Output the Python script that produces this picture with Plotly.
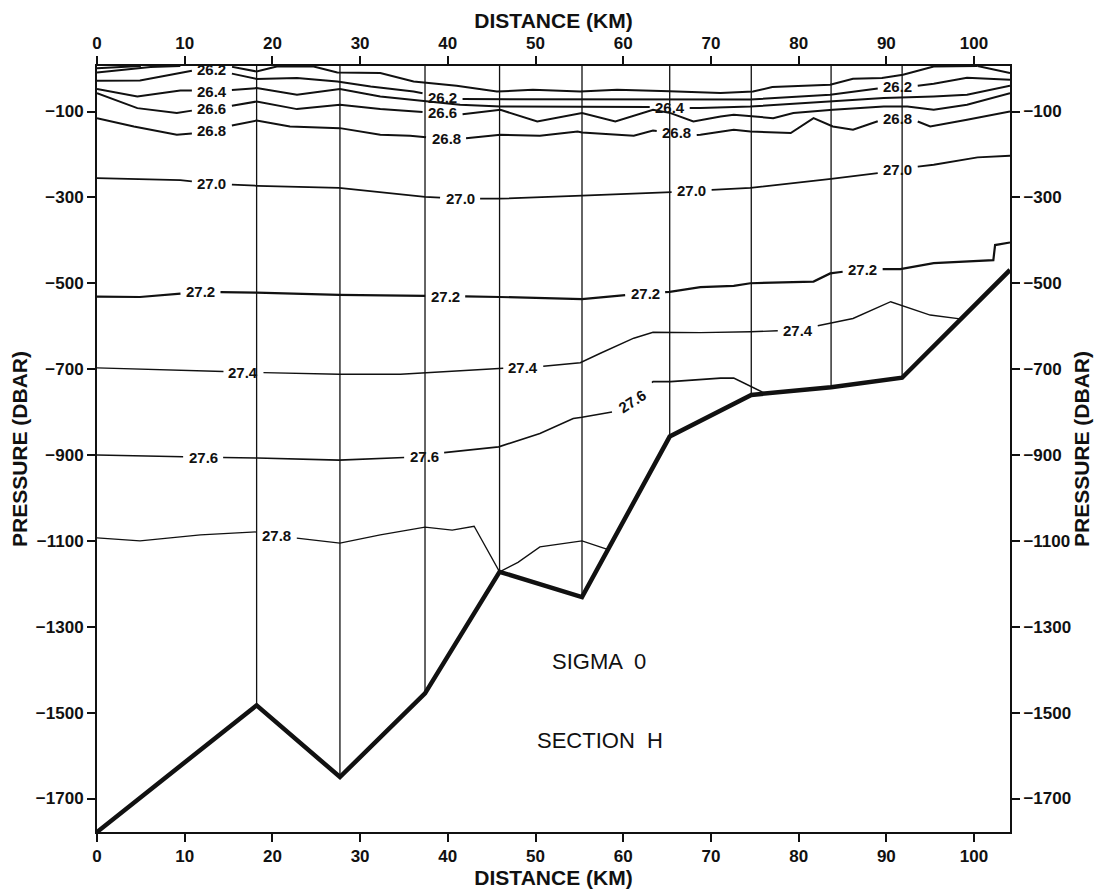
import numpy as np
import plotly.graph_objects as go

# ---------------- axes ----------------
x_range = [0, 104.1]
y_range = [-1778, 6]
distance_ticks = [0, 10, 20, 30, 40, 50, 60, 70, 80, 90, 100]
pressure_ticks = [-100, -300, -500, -700, -900, -1100, -1300, -1500, -1700]

# ---------------- stations / bottom ----------------
station_km = [18.2, 27.7, 37.4, 45.9, 55.3, 65.3, 74.6, 83.7, 91.8]
bottom_km = [0, 18.2, 27.7, 37.4, 45.9, 55.3, 65.3, 74.6, 83.7, 91.8, 104.1]
bottom_p = [-1778, -1483, -1650, -1455, -1172, -1231, -857, -760, -742, -720, -469]

# ---------------- near-surface unlabeled lines ----------------
s1_km = [0, 3.0, 5.0]
s1_p = [1, 4, 6]
s2_km = [0, 3.0, 6.1, 9.5]
s2_p = [-9, -3, 3.5, 6]
m1_km = [15.4, 18.2, 20.5, 24.7, 27.4, 32.3, 36.1, 41.0, 45.6, 49.7, 55.1, 59.3, 65.3,
         71.1, 74.8, 77.0, 83.6, 86.2, 89.5, 91.9, 95.4, 100.4]
m1_p = [4, -6.8, 4.9, 4.9, -9.1, -10.5, -30.1, -40.1, -53.4, -49.4, -53.4, -49.4, -53,
        -57.1, -53.4, -43.1, -37.8, -23.8, -22.2, -14.5, 4.9, 6]
s3_km = [100.4, 104.1]
s3_p = [6, -10.5]

# ---------------- labelled isopycnals ----------------
c262_km = [0, 4.9, 8.4, 10.6, 13.1, 15.2, 18.2, 22.8, 27.4, 31.2, 36.1, 39.4, 41.1, 46.0,
           55.3, 65.3, 74.5, 83.6, 87.3, 91.3, 93.0, 95.4, 99.2, 104.1]
c262_p = [-28.5, -27.8, -14.5, -5.1, -3, -11, -24, -22.2, -30.1, -41.7, -53.4, -67, -71.1,
          -71.1, -72.7, -72.7, -72, -61.1, -50, -42, -41.7, -35.4, -21.5, -26.1]
c262_labels = [13.1, 39.4, 91.3]

c264_km = [0, 4.6, 9.5, 11.4, 13.1, 14.8, 18.2, 22.8, 27.7, 32.3, 35.7, 41.4, 46.0, 55.3,
           61.9, 65.3, 68.8, 74.5, 83.9, 89.7, 95.4, 99.2, 104.1]
c264_p = [-47.8, -65, -51.1, -51.1, -53.4, -51.1, -45.5, -61.1, -47.8, -65, -72.7, -84.4,
          -88.3, -88.3, -88.3, -91.4, -92.1, -88.3, -76.7, -68.8, -65, -61.1, -40.1]
c264_labels = [13.1, 65.3]

c266_km = [0, 4.6, 9.1, 11.4, 13.1, 14.8, 18.2, 22.8, 27.7, 32.3, 35.7, 39.4, 41.1, 46.0,
           50.2, 55.3, 59.1, 63.4, 65.4, 68.0, 71.1, 72.6, 77.1, 79.4, 83.9, 89.7, 92.4,
           95.4, 99.2, 104.1]
c266_p = [-57.1, -92.1, -103.7, -96, -92.1, -88.3, -76.7, -94.4, -84.4, -94.4, -100, -103,
          -107.7, -96, -123.3, -103.7, -123.3, -96, -103.7, -123.3, -111.7, -107.7, -115.4,
          -103.7, -96, -88.3, -88.3, -96, -84.4, -57.1]
c266_labels = [13.1, 39.4]

c268_km = [0, 4.2, 9.1, 11.4, 13.1, 14.8, 18.2, 22.0, 27.7, 32.3, 35.7, 39.8, 41.4, 46.0,
           50.5, 54.8, 55.3, 61.2, 63.4, 66.1, 67.7, 68.8, 72.6, 74.5, 79.1, 81.7, 83.9,
           86.2, 89.5, 91.3, 93.1, 95.0, 99.2, 104.1]
c268_p = [-115.4, -135, -154.3, -150.3, -144.3, -135, -121, -135, -138.7, -154.3, -156.6,
          -163.6, -163.6, -154.3, -156.6, -146.6, -148.9, -156.6, -144.3, -150, -156,
          -154.3, -142.6, -146.6, -150.3, -115.4, -135, -142.6, -119.3, -117, -119.3, -135,
          -119.3, -100]
c268_labels = [13.1, 39.8, 66.1, 91.3]

c270_km = [0, 6.1, 9.5, 13.1, 18.3, 27.6, 37.4, 41.4, 45.9, 55.3, 65.3, 67.8, 74.5, 83.7,
           89.3, 91.3, 95.4, 100.4, 104.1]
c270_p = [-255, -258, -260, -268, -273, -278, -299, -303, -303, -296, -288, -285, -278,
          -257, -243, -234, -224, -207, -203]
c270_labels = [13.1, 41.4, 67.8, 91.3]

c272_km = [0, 4.9, 11.8, 18.2, 27.6, 39.7, 45.9, 55.3, 62.5, 65.3, 68.8, 72.6, 74.5, 81.7,
           83.6, 87.3, 89.1, 91.6, 95.4, 102.2, 102.4, 104.1]
c272_p = [-531, -532, -520, -522, -527, -530, -532, -537, -523, -520, -509, -506, -500,
          -496, -477, -467, -467, -467, -453, -446, -411, -405]
c272_labels = [11.8, 39.7, 62.5, 87.3]

c274_km = [0, 16.7, 27.6, 34.6, 46.0, 48.6, 50.5, 55.1, 57.4, 61.2, 63.4, 68.8, 74.5, 79.9,
           81.7, 86.2, 90.5, 95.0, 98.4]
c274_p = [-697, -707, -712, -712, -698, -697, -694, -685, -663, -628, -614, -615, -613,
          -609, -601, -582, -543, -574, -583]
c274_labels = [16.7, 48.6, 79.9]

c276_km = [0, 12.1, 18.3, 27.6, 37.3, 38.9, 45.8, 50.5, 54.3, 55.3, 58.9, 61.0, 63.4,
           65.4, 71.1, 72.6, 74.5, 76.2]
c276_p = [-900, -905, -907, -912, -904, -896, -881, -850, -815, -812, -799, -776, -729,
          -729, -721, -721, -739, -757]
c276_labels = [12.1, 37.3, 61.0]
c276_angles = [0, 0, -33]

c278_km = [0, 4.9, 11.8, 18.2, 20.5, 27.7, 32.3, 37.4, 40.5, 43.0, 45.9, 48.0, 50.5, 55.3,
           58.2]
c278_p = [-1093, -1100, -1086, -1079, -1088, -1105, -1086, -1068, -1075, -1066, -1172,
          -1150, -1114, -1100, -1120]
c278_labels = [20.5]

# ---------------- drawing helpers ----------------
PX_PER_KM = 8.77


def cut_for_labels(xs, ys, centers, halfw):
    gaps = [(c - halfw, c + halfw) for c in centers]
    extra = [g for ab in gaps for g in ab if xs[0] < g < xs[-1]]
    allx = sorted(set(list(xs) + extra))
    ally = np.interp(allx, xs, ys)
    ox, oy = [], []
    prev = None
    for x, y in zip(allx, ally):
        if any(a < x < b for a, b in gaps):
            continue
        if prev is not None and any(prev <= a and x >= b for a, b in gaps):
            ox.append(None)
            oy.append(None)
        ox.append(float(x))
        oy.append(float(y))
        prev = x
    return ox, oy


fig = go.Figure()

line_col = "#111111"

# station verticals
st_bottom = np.interp(station_km, bottom_km, bottom_p)
vx, vy = [], []
for k, b in zip(station_km, st_bottom):
    vx += [k, k, None]
    vy += [y_range[1], float(b), None]
fig.add_trace(go.Scatter(x=vx, y=vy, mode="lines", line=dict(color=line_col, width=1.3),
                         hoverinfo="skip", showlegend=False))

# unlabeled surface lines
for xs, ys in [(s1_km, s1_p), (s2_km, s2_p), (m1_km, m1_p), (s3_km, s3_p)]:
    fig.add_trace(go.Scatter(x=xs, y=ys, mode="lines",
                             line=dict(color=line_col, width=2.0, shape="linear"),
                             hoverinfo="skip", showlegend=False))

contours = [
    ("26.2", c262_km, c262_p, c262_labels, None, 2.0),
    ("26.4", c264_km, c264_p, c264_labels, None, 2.0),
    ("26.6", c266_km, c266_p, c266_labels, None, 2.0),
    ("26.8", c268_km, c268_p, c268_labels, None, 2.0),
    ("27.0", c270_km, c270_p, c270_labels, None, 1.8),
    ("27.2", c272_km, c272_p, c272_labels, None, 2.2),
    ("27.4", c274_km, c274_p, c274_labels, None, 1.4),
    ("27.6", c276_km, c276_p, c276_labels, c276_angles, 1.6),
    ("27.8", c278_km, c278_p, c278_labels, None, 1.3),
]

annotations = []
halfw = 20 / PX_PER_KM
for name, xs, ys, labs, angs, w in contours:
    cx, cy = cut_for_labels(xs, ys, labs, halfw)
    fig.add_trace(go.Scatter(x=cx, y=cy, mode="lines", line=dict(color=line_col, width=w),
                             hoverinfo="skip", showlegend=False))
    for i, k in enumerate(labs):
        yv = float(np.interp(k, xs, ys))
        annotations.append(dict(
            x=k, y=yv, xref="x", yref="y", text=name, showarrow=False,
            textangle=(angs[i] if angs else 0),
            font=dict(family="Liberation Sans", size=15, color=line_col, weight="bold"),
            xanchor="center", yanchor="middle"))

# bottom profile
fig.add_trace(go.Scatter(x=bottom_km, y=bottom_p, mode="lines",
                         line=dict(color=line_col, width=4.5), hoverinfo="skip",
                         showlegend=False))

# invisible trace for secondary axes
fig.add_trace(go.Scatter(x=[x_range[0]], y=[y_range[0]], xaxis="x2", yaxis="y2",
                         mode="markers", marker=dict(opacity=0), hoverinfo="skip",
                         showlegend=False))

annotations += [
    dict(x=57.2, y=-1382, xref="x", yref="y", text="SIGMA  0", showarrow=False,
         font=dict(family="Liberation Sans", size=22, color=line_col)),
    dict(x=57.4, y=-1564, xref="x", yref="y", text="SECTION  H", showarrow=False,
         font=dict(family="Liberation Sans", size=22, color=line_col)),
]

tickfont = dict(family="Liberation Sans", size=17, color=line_col, weight="bold")
titlefont = dict(family="Liberation Sans", size=21, color=line_col, weight="bold")

axis_common = dict(showgrid=False, zeroline=False, showline=True, linecolor=line_col,
                   linewidth=2, ticks="outside", ticklen=8, tickwidth=1.5,
                   tickcolor=line_col, tickfont=tickfont)

fig.update_layout(
    width=1095, height=884,
    margin=dict(l=89, r=93, t=58, b=60, autoexpand=False),
    paper_bgcolor="white", plot_bgcolor="white",
    xaxis=dict(range=x_range, tickvals=distance_ticks, side="bottom",
               title=dict(text="DISTANCE (KM)", font=titlefont, standoff=0),
               **axis_common),
    xaxis2=dict(range=x_range, tickvals=distance_ticks, side="top", overlaying="x",
                title=dict(text="DISTANCE (KM)", font=titlefont, standoff=0),
                **axis_common),
    yaxis=dict(range=y_range, tickvals=pressure_ticks, side="left",
               title=dict(text="PRESSURE (DBAR)", font=titlefont, standoff=3),
               **axis_common),
    yaxis2=dict(range=y_range, tickvals=pressure_ticks, side="right", overlaying="y",
                title=dict(text="PRESSURE (DBAR)", font=titlefont, standoff=3),
                **axis_common),
    annotations=annotations,
)

fig.write_html("out.html")
